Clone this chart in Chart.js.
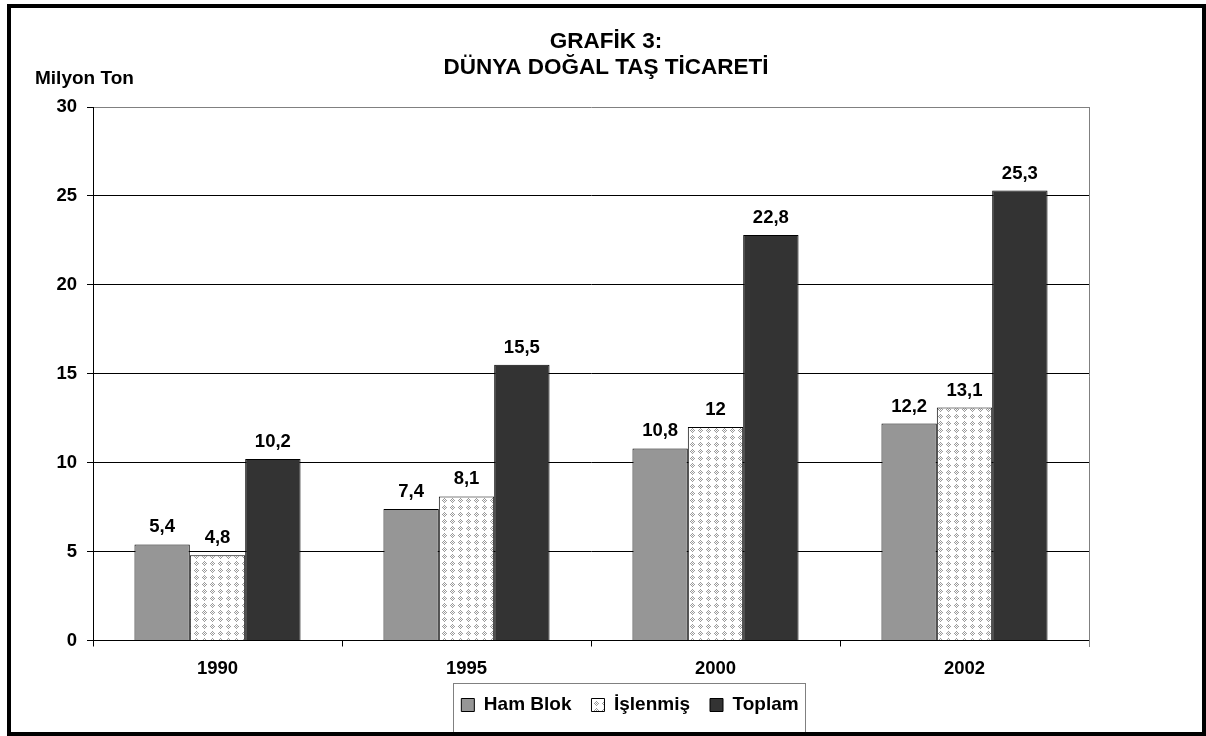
<!DOCTYPE html>
<html>
<head>
<meta charset="utf-8">
<script src="https://cdn.jsdelivr.net/npm/chart.js@4.4.0/dist/chart.umd.min.js"></script>
<style>
    html, body { margin: 0; padding: 0; background: #fff; }
    #wrap { width: 1206px; height: 736px; }
</style>
</head>
<body>
<div id="wrap"><canvas id="chart" width="1206" height="736"></canvas></div>
<script>
// Chart values
const years = ['1990', '1995', '2000', '2002'];
const hamBlok = [5.4, 7.4, 10.8, 12.2];
const islenmis = [4.8, 8.1, 12, 13.1];
const toplam = [10.2, 15.5, 22.8, 25.3];
const seriesNames = ['Ham Blok', 'İşlenmiş', 'Toplam'];
const titleLines = ['GRAFİK 3:', 'DÜNYA DOĞAL TAŞ TİCARETİ'];
const yAxisLabel = 'Milyon Ton';
const yMin = 0, yMax = 30, yStep = 5;

const FONT = "'Liberation Sans', Arial, sans-serif";

// dotted diamond fill used by the "İşlenmiş" bars
function makeDotPattern() {
    const w = 8, h = 7;
    const c = document.createElement('canvas');
    c.width = w; c.height = h;
    const g = c.getContext('2d');
    g.fillStyle = '#ffffff';
    g.fillRect(0, 0, w, h);
    g.fillStyle = '#9a9a9a';
    for (let y = 0; y < h; y++) {
        for (let x = 0; x < w; x++) {
            const dx = x - 4, dy = y - 3;
            if (Math.abs(dx) + Math.abs(dy) <= 3 && (dx + dy) % 2 === 0) {
                g.fillRect(x, y, 1, 1);
            }
        }
    }
    return g.createPattern(c, 'repeat');
}

function formatValue(v) {
    return String(v).replace('.', ',');
}

// move a full-width box so it is centred on cx
function centreBox(box, cx) {
    if (!box) return;
    const dx = cx - (box.left + box.right) / 2;
    box.left += dx;
    box.right += dx;
}

const framePlugin = {
    id: 'frame',
    beforeDraw(chart) {
        const ctx = chart.ctx;
        ctx.save();
        ctx.fillStyle = '#fff';
        ctx.fillRect(0, 0, chart.width, chart.height);
        ctx.restore();
    },
    afterLayout(chart) {
        centreBox(chart.titleBlock, 606);
        centreBox(chart.legend, 630);
    },
    afterDatasetsDraw(chart) {
        const ctx = chart.ctx;
        ctx.save();
        ctx.font = 'bold 18.5px ' + FONT;
        ctx.fillStyle = '#000';
        ctx.textAlign = 'center';
        ctx.textBaseline = 'alphabetic';
        chart.data.datasets.forEach(function(ds, i) {
            chart.getDatasetMeta(i).data.forEach(function(bar, j) {
                ctx.fillText(formatValue(ds.data[j]), bar.x, bar.y - 12);
            });
        });
        ctx.restore();
    },
    afterDraw(chart) {
        const ctx = chart.ctx;
        const area = chart.chartArea;
        ctx.save();
        // grey right edge of the plot area
        ctx.strokeStyle = '#808080';
        ctx.lineWidth = 1;
        ctx.beginPath();
        ctx.moveTo(Math.round(area.right) + 0.5, area.top);
        ctx.lineTo(Math.round(area.right) + 0.5, area.bottom + 6);
        ctx.stroke();

        // axis caption
        ctx.fillStyle = '#000';
        ctx.font = 'bold 19px ' + FONT;
        ctx.textAlign = 'left';
        ctx.textBaseline = 'middle';
        ctx.fillText(yAxisLabel, 35, 79);

        // box round the legend
        const boxes = chart.legend.legendHitBoxes;
        if (boxes && boxes.length) {
            const l = Math.min.apply(null, boxes.map(b => b.left)) - 8;
            const r = Math.max.apply(null, boxes.map(b => b.left + b.width)) + 7;
            ctx.strokeStyle = '#808080';
            ctx.strokeRect(Math.round(l) + 0.5, 683.5, Math.round(r - l), 60);
        }

        // thick outer border
        ctx.strokeStyle = '#000';
        ctx.lineWidth = 4;
        ctx.strokeRect(9, 6, 1195, 728);
        ctx.restore();
    }
};

const ctx = document.getElementById('chart').getContext('2d');
new Chart(ctx, {
    type: 'bar',
    data: {
        labels: years,
        datasets: [{
            label: seriesNames[0],
            data: hamBlok,
            backgroundColor: '#969696',
            borderColor: '#000',
            borderWidth: 1
        }, {
            label: seriesNames[1],
            data: islenmis,
            backgroundColor: makeDotPattern(),
            borderColor: '#000',
            borderWidth: 1
        }, {
            label: seriesNames[2],
            data: toplam,
            backgroundColor: '#333333',
            borderColor: '#000',
            borderWidth: 1
        }]
    },
    options: {
        responsive: false,
        animation: false,
        events: [],
        categoryPercentage: 0.667,
        barPercentage: 1.0,
        layout: {
            padding: { left: 12, right: 117, top: 8, bottom: 11.5 }
        },
        scales: {
            x: {
                grid: {
                    drawOnChartArea: false,
                    drawTicks: true,
                    tickLength: 6,
                    color: '#000'
                },
                border: { color: '#000', width: 1 },
                ticks: {
                    color: '#000',
                    padding: 11,
                    font: { family: FONT, size: 18.5, weight: 'bold' }
                },
                afterFit: function(s) { s.height = 35; }
            },
            y: {
                min: yMin,
                max: yMax,
                grid: {
                    color: function(c) { return c.tick && c.tick.value === yMax ? '#808080' : '#000'; },
                    tickColor: '#000',
                    tickLength: 6
                },
                border: { color: '#000', width: 1 },
                ticks: {
                    stepSize: yStep,
                    color: '#000',
                    padding: 10,
                    font: { family: FONT, size: 18.5, weight: 'bold' }
                },
                afterFit: function(s) { s.width = 81; }
            }
        },
        plugins: {
            title: {
                display: true,
                text: titleLines,
                color: '#000',
                font: { family: FONT, size: 22.5, weight: 'bold', lineHeight: 26 / 22.5 },
                padding: { top: 21, bottom: 26 }
            },
            legend: {
                position: 'bottom',
                labels: {
                    color: '#000',
                    boxWidth: 13,
                    boxHeight: 13,
                    padding: 20,
                    font: { family: FONT, size: 19, weight: 'bold' }
                }
            },
            tooltip: { enabled: false }
        }
    },
    plugins: [framePlugin]
});
</script>
</body>
</html>
